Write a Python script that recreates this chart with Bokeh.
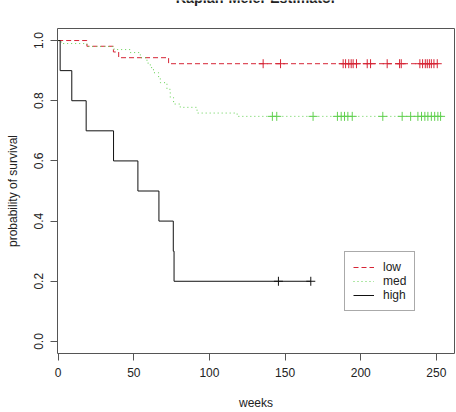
import numpy as np
from bokeh.plotting import figure
from bokeh.layouts import column
from bokeh.models import Range1d, FixedTicker, Legend, LegendItem
from bokeh.core.properties import value
from bokeh.embed import file_html
from bokeh.resources import INLINE

# Kaplan-Meier step curves: event times (weeks) and survival after each step
low_time = [0, 19, 36.5, 40, 73]
low_surv = [1.0, 0.981, 0.962, 0.943, 0.923]
low_cens = [135.5, 147, 188.4, 190, 192.1, 193.7, 195, 197.2, 204.3, 206.5,
            217.5, 225.7, 226.8, 239.1, 240.9, 242.7, 244, 245.4, 246.7,
            248.4, 250.6]

med_time = [0, 2, 19, 37, 47.6, 54.3, 58.7, 60.9, 63, 66.4, 67.5, 71.9,
            74.1, 76.3, 80.7, 91.8, 118.3]
med_surv = [1.0, 0.99, 0.98, 0.97, 0.96, 0.943, 0.925, 0.91, 0.893, 0.875,
            0.86, 0.838, 0.81, 0.789, 0.778, 0.759, 0.748]
med_cens = [141.6, 144.5, 168.5, 184.6, 187.1, 189.3, 191.5, 194.4, 214.6,
            227.4, 233, 237.8, 240.2, 242.4, 244.4, 246.7, 248.9, 251, 252.8]

high_time = [0, 1.3, 9, 18.5, 36.6, 52.7, 66.6, 76.1, 76.6]
high_surv = [1.0, 0.9, 0.8, 0.7, 0.6, 0.5, 0.4, 0.3, 0.2]
high_cens = [145.6, 167]

x_ticks = [0, 50, 100, 150, 200, 250]
y_ticks = [0.0, 0.2, 0.4, 0.6, 0.8, 1.0]

FONT = "Liberation Sans"
TXT = "#222222"
AXC = "#555555"
W = 456
HEAD_H = 27         # strip above the plot frame that carries the main title
MAIN_H = 412 - HEAD_H
FRAME_LEFT = 57
FRAME_RIGHT = 2

# ---- main plot ----
p = figure(width=W, height=MAIN_H, output_backend="svg", toolbar_location=None,
           x_range=Range1d(-0.45, 262), y_range=Range1d(-0.04, 1.04),
           min_border_left=FRAME_LEFT, min_border_right=FRAME_RIGHT,
           min_border_top=28 - HEAD_H, min_border_bottom=56)
p.background_fill_color = "white"
p.border_fill_color = "white"
p.outline_line_color = AXC
p.outline_line_width = 1
p.xgrid.visible = False
p.ygrid.visible = False

# ---- title strip: the title is a text glyph, so the page's top edge
# trims it ----
head = figure(width=W, height=HEAD_H, output_backend="svg",
              toolbar_location=None, x_range=p.x_range,
              y_range=Range1d(0, HEAD_H), x_axis_type=None, y_axis_type=None,
              min_border_left=FRAME_LEFT, min_border_right=FRAME_RIGHT,
              min_border_top=0, min_border_bottom=0, outline_line_color=None)
head.xgrid.visible = False
head.ygrid.visible = False
head.background_fill_color = "white"
head.border_fill_color = "white"
head.text(x=[(p.x_range.start + p.x_range.end) / 2],
          y=[HEAD_H + 3], text=["Kaplan-Meier Estimator"],
          text_align="center", text_baseline="alphabetic",
          text_font=value(FONT), text_font_size="14.4px",
          text_font_style="bold", text_color=TXT)


def curve(times, surv, cens):
    end = max(cens)
    xs = list(times) + [end]
    ys = list(surv) + [surv[-1]]
    idx = np.searchsorted(np.array(times), np.array(cens), side="right") - 1
    cy = [surv[i] for i in idx]
    return xs, ys, cy


series = [
    ("low", low_time, low_surv, low_cens, "#D62435", "5 3"),
    ("med", med_time, med_surv, med_cens, "#61D04F", "1 3"),
    ("high", high_time, high_surv, high_cens, "#111111", "solid"),
]

items = []
for name, t, s, c, col, dash in series:
    xs, ys, cy = curve(t, s, c)
    r = p.step(xs, ys, mode="after", line_color=col, line_width=1,
               line_dash=dash)
    p.scatter(c, cy, marker="cross", size=9, line_color=col, line_width=1)
    items.append(LegendItem(label=name, renderers=[r]))

legend = Legend(items=items, location=(287, 42), orientation="vertical",
                glyph_width=21, glyph_height=14, label_height=14,
                label_standoff=9, spacing=0, padding=8, margin=0,
                label_text_font=FONT, label_text_font_size="12px",
                label_text_color=TXT, border_line_color=AXC,
                border_line_width=1, background_fill_color="white",
                background_fill_alpha=1.0)
p.add_layout(legend, "center")

for ax in (p.xaxis[0], p.yaxis[0]):
    ax.axis_line_color = None
    ax.major_tick_line_color = AXC
    ax.major_tick_out = 7
    ax.major_tick_in = 0
    ax.minor_tick_line_color = None
    ax.major_label_text_font = FONT
    ax.major_label_text_font_size = "12px"
    ax.major_label_text_color = TXT
    ax.axis_label_text_font = FONT
    ax.axis_label_text_font_size = "12px"
    ax.axis_label_text_font_style = "normal"
    ax.axis_label_text_color = TXT

p.xaxis.ticker = FixedTicker(ticks=x_ticks)
p.yaxis.ticker = FixedTicker(ticks=y_ticks)
p.yaxis.major_label_overrides = {v: f"{v:.1f}" for v in y_ticks}
p.yaxis.major_label_orientation = "vertical"
p.xaxis.major_label_standoff = 7
p.yaxis.major_label_standoff = 7
p.xaxis.axis_label = "weeks"
p.yaxis.axis_label = "probability of survival"
p.xaxis.axis_label_standoff = 16
p.yaxis.axis_label_standoff = 12

layout = column(head, p, spacing=0)

open("out.html", "w").write(file_html(layout, INLINE))
